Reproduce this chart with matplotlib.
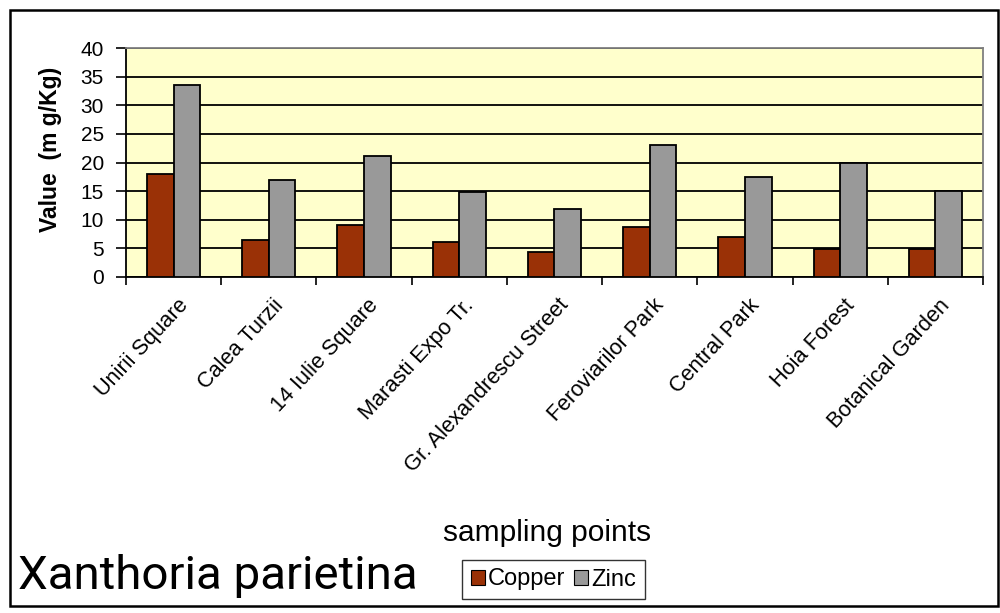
import matplotlib
matplotlib.use("Agg")
import matplotlib.pyplot as plt
import numpy as np
from matplotlib.patches import Rectangle, Patch
from matplotlib.transforms import ScaledTranslation

sites = ["Unirii Square", "Calea Turzii", "14 Iulie Square", "Marasti Expo Tr.",
         "Gr. Alexandrescu Street", "Feroviarilor Park", "Central Park",
         "Hoia Forest", "Botanical Garden"]
copper = [18.0, 6.4, 9.0, 6.1, 4.4, 8.7, 7.0, 4.9, 4.9]
zinc = [33.6, 16.9, 21.1, 14.9, 11.8, 23.1, 17.5, 20.0, 15.0]
yticks = [0, 5, 10, 15, 20, 25, 30, 35, 40]

COPPER = "#9A3106"
ZINC = "#999999"
PLOT_BG = "#FFFFCC"

plt.rcParams["font.family"] = ["Liberation Sans", "DejaVu Sans"]

fig = plt.figure(figsize=(10, 6.13), dpi=100)
ax = fig.add_axes([0.126, 1 - 277 / 613, 0.983 - 0.126, (277 - 48) / 613])
ax.set_facecolor(PLOT_BG)

x = np.arange(len(sites))
w = 0.28
ax.bar(x - w / 2, copper, w, color=COPPER, edgecolor="black", linewidth=1.3, zorder=3)
ax.bar(x + w / 2, zinc, w, color=ZINC, edgecolor="black", linewidth=1.3, zorder=3)

ax.set_xlim(-0.5, len(sites) - 0.5)
ax.set_ylim(0, 40)
ax.set_yticks(yticks)
ax.set_yticklabels([str(v) for v in yticks], fontsize=15)
ax.yaxis.grid(True, color="black", linewidth=1.3, zorder=1)
ax.set_axisbelow(True)

# boundary ticks on the category axis, labels at the category centres
ax.set_xticks(np.arange(len(sites) + 1) - 0.5)
ax.set_xticklabels([])
ax.set_xticks(x, minor=True)
ax.set_xticklabels(sites, minor=True, rotation=47, ha="right", va="center",
                   rotation_mode="anchor", fontsize=15.7)
ax.tick_params(axis="x", which="minor", length=0, pad=18)
ax.tick_params(axis="x", which="major", length=6, width=1.2, direction="out")
ax.tick_params(axis="y", length=7, width=1.2, direction="out", pad=9)
shift = ScaledTranslation(0.11, 0, fig.dpi_scale_trans)
for lbl in ax.get_xticklabels(minor=True):
    lbl.set_transform(lbl.get_transform() + shift)

for side in ("left", "bottom"):
    ax.spines[side].set_color("black")
    ax.spines[side].set_linewidth(1.3)
for side in ("top", "right"):
    ax.spines[side].set_color("#808080")
    ax.spines[side].set_linewidth(1.3)

fig.text(0.051, 1 - 149 / 613, "Value  (m g/Kg)", rotation=90, ha="center",
         va="center", fontsize=16.5, fontweight="bold")
fig.text(0.547, 1 - 541 / 613, "sampling points", ha="center", va="baseline",
         fontsize=21.5)

# species name, sized so that it spans 400 px of the slide
species = fig.text(0.018, 1 - 589 / 613, "Xanthoria parietina", ha="left",
                   va="baseline", fontsize=36, family="Roboto")
renderer = fig.canvas.get_renderer()
width_px = species.get_window_extent(renderer).width
species.set_fontsize(36 * 400 / width_px)

handles = [Patch(facecolor=COPPER, edgecolor="black", linewidth=0.8, label="Copper"),
           Patch(facecolor=ZINC, edgecolor="black", linewidth=0.8, label="Zinc")]
fig.legend(handles=handles, loc="center", bbox_to_anchor=(0.5535, 1 - 579.5 / 613),
           ncol=2, fontsize=17, frameon=True, fancybox=False, edgecolor="black",
           handlelength=0.6, handleheight=0.6, handletextpad=0.15, columnspacing=0.35,
           borderpad=0.35, borderaxespad=0)

fig.patches.append(Rectangle((0.010, 1 - 606 / 613), 0.988, (606 - 10) / 613,
                             transform=fig.transFigure, fill=False,
                             edgecolor="black", linewidth=1.8))

fig.savefig("out.png", dpi=100)
